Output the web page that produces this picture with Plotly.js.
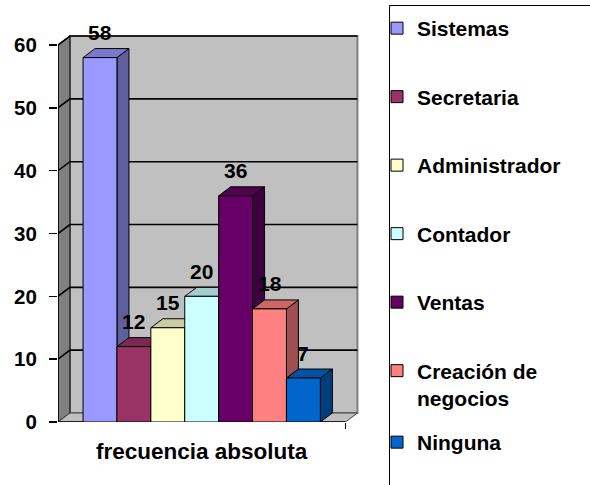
<!DOCTYPE html>
<html>
<head>
<meta charset="utf-8">
<script src="https://cdn.plot.ly/plotly-3.0.1.min.js"></script>
<style>html,body{margin:0;padding:0;background:#fff;}#chart{width:590px;height:485px;}</style>
</head>
<body>
<div id="chart"></div>
<script>
// ---- data ----
const categories = ['Sistemas', 'Secretaria', 'Administrador', 'Contador', 'Ventas', 'Creación de negocios', 'Ninguna'];
const legendNames = ['Sistemas', 'Secretaria', 'Administrador', 'Contador', 'Ventas', 'Creación de<br>negocios', 'Ninguna'];
const values = [58, 12, 15, 20, 36, 18, 7];
const colors = ['#9999FF', '#993366', '#FFFFCC', '#CCFFFF', '#660066', '#FF8080', '#0066CC'];
const yTicks = [0, 10, 20, 30, 40, 50, 60];
const xCategoryLabel = 'frecuencia absoluta';

// ---- layout geometry ----
const FONT = 'Liberation Sans, Arial, Helvetica, sans-serif';
const M = {l: 58, r: 230, t: 28, b: 63};
const plotW = 590 - M.l - M.r, plotH = 485 - M.t - M.b;
const pxPerX = 33.9, pxPerY = 6.283;
const xMin = -42 / pxPerX;               // plot left edge relative to first bar centre
const xMax = xMin + plotW / pxPerX;
const yMax = plotH / pxPerY;
const pad = 0.74;                        // floor overhang on each side of the bars
const xL = -0.5 - pad, xR = (values.length - 0.5) + pad;
const DX = 12 / pxPerX, DY = 9 / pxPerY; // 3-D depth offset
const topV = yTicks[yTicks.length - 1];

function shade(hex, f) {
  const n = parseInt(hex.slice(1), 16);
  const r = Math.round(((n >> 16) & 255) * f), g = Math.round(((n >> 8) & 255) * f), b = Math.round((n & 255) * f);
  return 'rgb(' + r + ',' + g + ',' + b + ')';
}
function poly(pts) { return 'M' + pts.map(p => p[0] + ',' + p[1]).join('L') + 'Z'; }
function line(pts) { return 'M' + pts.map(p => p[0] + ',' + p[1]).join('L'); }

const shapes = [];
// back wall
shapes.push({type: 'rect', xref: 'x', yref: 'y', layer: 'below', x0: xL + DX, x1: xR + DX, y0: DY, y1: topV + DY,
  fillcolor: '#C0C0C0', line: {color: '#808080', width: 2}});
// left wall
shapes.push({type: 'path', xref: 'x', yref: 'y', layer: 'below',
  path: poly([[xL, 0], [xL + DX, DY], [xL + DX, topV + DY], [xL, topV]]), fillcolor: '#808080', line: {color: '#000', width: 1}});
// floor
shapes.push({type: 'path', xref: 'x', yref: 'y', layer: 'below',
  path: poly([[xL, 0], [xR, 0], [xR + DX, DY], [xL + DX, DY]]), fillcolor: '#C0C0C0', line: {color: '#404040', width: 1}});
// gridlines
yTicks.forEach(v => {
  if (v === 0) return;
  shapes.push({type: 'path', xref: 'x', yref: 'y', layer: 'below',
    path: line([[xL, v], [xL + DX, v + DY], [xR + DX, v + DY]]), line: {color: '#000', width: 1.6}});
});
// front axes
shapes.push({type: 'path', xref: 'x', yref: 'y', layer: 'below', path: line([[xL, topV], [xL, 0], [xR, 0]]), line: {color: '#000', width: 1.6}});
// bar side & top faces
values.forEach((v, i) => {
  const a = i - 0.5, b = i + 0.5;
  shapes.push({type: 'path', xref: 'x', yref: 'y', layer: 'below',
    path: poly([[b, 0], [b + DX, DY], [b + DX, v + DY], [b, v]]), fillcolor: shade(colors[i], 0.62), line: {color: '#000', width: 1}});
  shapes.push({type: 'path', xref: 'x', yref: 'y', layer: 'below',
    path: poly([[a, v], [b, v], [b + DX, v + DY], [a + DX, v + DY]]), fillcolor: shade(colors[i], 0.8), line: {color: '#000', width: 1}});
});
// legend frame
const px2paperX = px => (px - M.l) / plotW, px2paperY = py => (485 - M.b - py) / plotH;
shapes.push({type: 'rect', xref: 'paper', yref: 'paper', layer: 'above',
  x0: px2paperX(389.5), x1: px2paperX(620), y0: px2paperY(520), y1: px2paperY(5.5), line: {color: '#000', width: 1}});

const traces = values.map((v, i) => ({
  type: 'bar', x: [i], y: [v], width: [1], name: legendNames[i],
  legendgroup: 'g' + i, legend: i === values.length - 1 ? 'legend2' : 'legend',
  marker: {color: colors[i], line: {color: '#000', width: 1}}, hoverinfo: 'skip'
}));

const annotations = values.map((v, i) => ({
  x: i, y: v, xref: 'x', yref: 'y', yshift: 25, showarrow: false, text: String(v),
  font: {family: FONT, size: 21, weight: 'bold', color: '#000'}
}));

const legendCommon = {
  xref: 'container', yref: 'container', xanchor: 'left', yanchor: 'top', bgcolor: 'rgba(0,0,0,0)', borderwidth: 0,
  font: {family: FONT, size: 21, weight: 'bold', color: '#000'}, traceorder: 'grouped', tracegroupgap: 38.2, valign: 'top',
  maxheight: 480
};

const layout = {
  width: 590, height: 485, margin: M, paper_bgcolor: '#fff', plot_bgcolor: 'rgba(0,0,0,0)',
  barmode: 'overlay', showlegend: true,
  font: {family: FONT, size: 20, color: '#000'},
  xaxis: {range: [xMin, xMax], showgrid: false, zeroline: false, showline: false,
    tickmode: 'array', tickvals: [(values.length - 1) / 2], ticktext: [xCategoryLabel], ticks: '',
    ticklabelstandoff: 13, tickfont: {family: FONT, size: 22.5, weight: 'bold', color: '#000'},
    minor: {tickmode: 'array', tickvals: [xL, xR], ticks: 'outside', ticklen: 6, tickcolor: '#000', tickwidth: 1.5, showgrid: false}},
  yaxis: {range: [0, yMax], showgrid: false, zeroline: false, showline: false,
    tickmode: 'array', tickvals: yTicks, ticktext: yTicks.map(String), ticks: 'outside', ticklen: 8, tickwidth: 1.5, tickcolor: '#000',
    ticklabelstandoff: 8, tickfont: {family: FONT, size: 20.5, weight: 'bold', color: '#000'}},
  legend: Object.assign({}, legendCommon, {x: 377 / 590, y: 1 - 8 / 485}),
  legend2: Object.assign({}, legendCommon, {x: 377 / 590, y: 1 - 422 / 485}),
  shapes: shapes, annotations: annotations
};

Plotly.newPlot('chart', traces, layout, {displayModeBar: false, staticPlot: true});
</script>
</body>
</html>
